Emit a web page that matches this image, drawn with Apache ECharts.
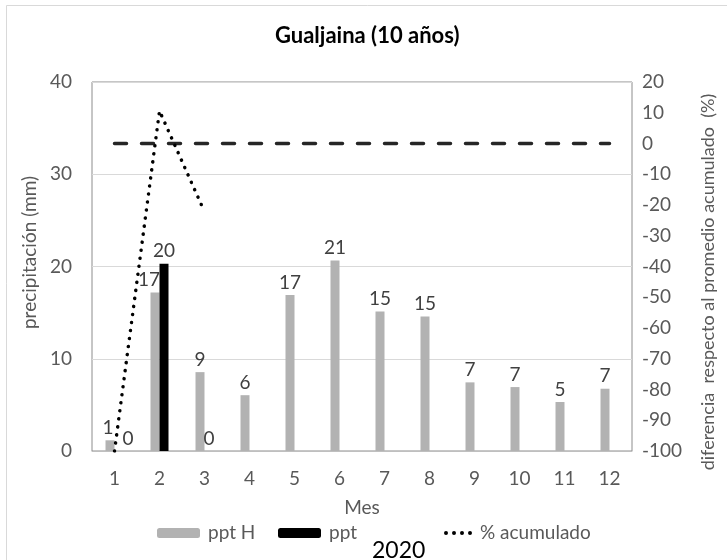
<!DOCTYPE html>
<html>
<head>
<meta charset="utf-8">
<script src="https://cdn.jsdelivr.net/npm/echarts@6/dist/echarts.min.js"></script>
<style>
  html, body { margin: 0; padding: 0; background: #ffffff; }
  #chart { width: 727px; height: 560px; }
</style>
</head>
<body>
<div id="chart"></div>
<script>
// Monthly precipitation, Gualjaina station
const months = ['1', '2', '3', '4', '5', '6', '7', '8', '9', '10', '11', '12'];
// historical monthly mean (mm)
const pptHist = [1.16, 17.17, 8.55, 6.05, 16.9, 20.65, 15.13, 14.58, 7.44, 6.93, 5.31, 6.75];
// 2020 observed (mm)
const ppt2020 = [0, 20.29, 0, null, null, null, null, null, null, null, null, null];
// accumulated difference vs. mean (%)
const pctAcum = [-100, 10.6, -22.2, null, null, null, null, null, null, null, null, null];
// reference line at 0 %
const promedio = [0, 0, 0, 0, 0, 0, 0, 0, 0, 0, 0, 0];

const leftTicks = { min: 0, max: 40, interval: 10 };
const rightTicks = { min: -100, max: 20, interval: 10 };

const FONT = 'Lato';
const GREY_TEXT = '#595959';
const FS = 19;

// four round dots for the legend marker of the dotted series
const DOTS_ICON = 'path://M0,2a2,2 0 1,0 4,0a2,2 0 1,0 -4,0Z M8,2a2,2 0 1,0 4,0a2,2 0 1,0 -4,0Z M16,2a2,2 0 1,0 4,0a2,2 0 1,0 -4,0Z M24,2a2,2 0 1,0 4,0a2,2 0 1,0 -4,0Z';

const chart = echarts.init(document.getElementById('chart'), null, { renderer: 'canvas' });

const barLabel = {
  show: true,
  position: 'top',
  distance: 3,
  color: '#404040',
  fontFamily: FONT,
  fontSize: FS,
  formatter: p => (p.value == null ? '' : String(Math.round(p.value)))
};

// nudge a few labels sideways where neighbouring labels would collide
function withLabelShift(values, shifts) {
  return values.map((v, i) => (shifts[i] ? { value: v, label: { offset: [shifts[i], 0] } } : v));
}

const legendText = { color: GREY_TEXT, fontFamily: FONT, fontSize: FS, lineHeight: 20, padding: [0, 0, 0, 3] };

chart.setOption({
  animation: false,
  backgroundColor: '#ffffff',
  textStyle: { fontFamily: FONT },
  title: {
    text: 'Gualjaina (10 años)',
    left: 275,
    top: 25,
    padding: 0,
    textStyle: { fontFamily: FONT, fontSize: 22, fontWeight: 'bold', color: '#000000' }
  },
  grid: {
    left: 92, right: 95, top: 82, bottom: 109,
    show: true, borderColor: '#8c8c8c', borderWidth: 1, backgroundColor: 'transparent'
  },
  legend: [
    { data: ['ppt H'], left: 157, top: 523, padding: 0, itemWidth: 43, itemHeight: 10, textStyle: legendText },
    { data: ['ppt'], left: 278, top: 523, padding: 0, itemWidth: 43, itemHeight: 10, textStyle: legendText },
    {
      data: [{ name: '% acumulado', icon: DOTS_ICON }],
      left: 444, top: 523, padding: 0, itemWidth: 28, itemHeight: 4, textStyle: legendText
    }
  ],
  graphic: [
    {
      type: 'rect', silent: true, z: -1,
      shape: { x: 6.5, y: 5.5, width: 760, height: 600 },
      style: { fill: 'none', stroke: '#d9d9d9', lineWidth: 1 }
    },
    {
      type: 'text', left: 372, top: 539, z: 10,
      style: { text: '2020', fill: '#000000', font: '23px Lato' }
    },
    {
      type: 'text', x: 708, y: 282, rotation: Math.PI / 2, z: 10,
      style: {
        text: 'diferencia  respecto al promedio acumulado  (%)',
        fill: GREY_TEXT, font: '18px Lato',
        align: 'center', verticalAlign: 'middle'
      }
    }
  ],
  xAxis: {
    type: 'category',
    data: months,
    boundaryGap: true,
    name: 'Mes',
    nameLocation: 'middle',
    nameGap: 47,
    nameTextStyle: { color: GREY_TEXT, fontFamily: FONT, fontSize: FS },
    axisLine: { show: true, lineStyle: { color: '#bfbfbf' } },
    axisTick: { show: false },
    axisLabel: { color: GREY_TEXT, fontFamily: FONT, fontSize: FS, margin: 18 },
    splitLine: { show: false }
  },
  yAxis: [
    {
      type: 'value',
      min: leftTicks.min, max: leftTicks.max, interval: leftTicks.interval,
      name: 'precipitación (mm)',
      nameLocation: 'middle',
      nameGap: 43,
      nameTextStyle: { color: GREY_TEXT, fontFamily: FONT, fontSize: FS, padding: [0, 0, 0, 28] },
      axisLine: { show: false },
      axisTick: { show: false },
      axisLabel: { color: GREY_TEXT, fontFamily: FONT, fontSize: FS, margin: 20 },
      splitLine: { show: true, lineStyle: { color: '#d9d9d9', width: 1 } }
    },
    {
      type: 'value',
      position: 'right',
      min: rightTicks.min, max: rightTicks.max, interval: rightTicks.interval,
      axisLine: { show: false },
      axisTick: { show: false },
      axisLabel: { color: GREY_TEXT, fontFamily: FONT, fontSize: FS, margin: 10 },
      splitLine: { show: false }
    }
  ],
  series: [
    {
      name: 'ppt H', type: 'bar', yAxisIndex: 0,
      data: withLabelShift(pptHist, { 0: -2, 1: -6 }), barWidth: 9, barGap: '0%',
      itemStyle: { color: '#b2b2b2' },
      label: barLabel, z: 2
    },
    {
      name: 'ppt', type: 'bar', yAxisIndex: 0,
      data: withLabelShift(ppt2020, { 0: 9 }), barWidth: 9, barGap: '0%',
      itemStyle: { color: '#000000' },
      label: barLabel, z: 2
    },
    {
      name: 'promedio', type: 'line', yAxisIndex: 1,
      data: promedio, symbol: 'none', z: 3,
      lineStyle: { color: '#262626', width: 3.5, type: [12, 15], cap: 'round' },
      itemStyle: { color: '#262626' }
    },
    {
      name: '% acumulado', type: 'line', yAxisIndex: 1,
      data: pctAcum, symbol: 'none', connectNulls: false, z: 4,
      lineStyle: { color: '#000000', width: 3.5, type: [0.1, 8], cap: 'round' },
      itemStyle: { color: '#000000' }
    }
  ]
});
</script>
</body>
</html>
